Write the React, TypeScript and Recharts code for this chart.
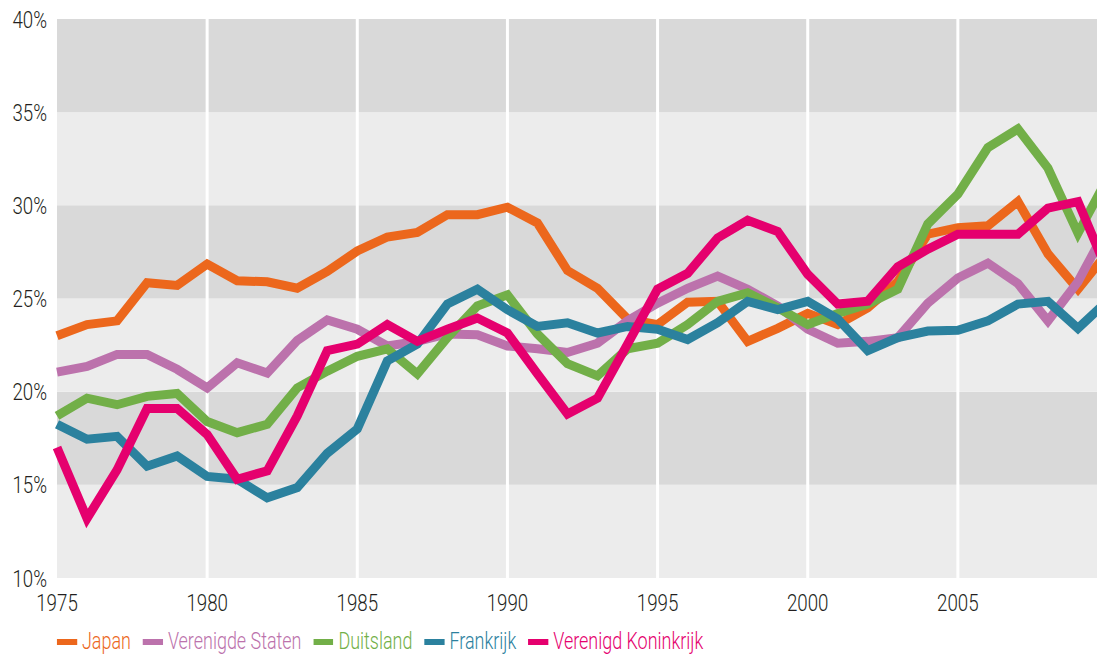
import { LineChart, Line, XAxis, YAxis, ReferenceArea, ReferenceLine, Legend } from "recharts";

// Share of GDP, per year (1975–2010); the 2010 point sits just past the visible edge
const YEARS = [
  1975, 1976, 1977, 1978, 1979, 1980, 1981, 1982, 1983, 1984, 1985, 1986,
  1987, 1988, 1989, 1990, 1991, 1992, 1993, 1994, 1995, 1996, 1997, 1998,
  1999, 2000, 2001, 2002, 2003, 2004, 2005, 2006, 2007, 2008, 2009, 2010,
];

const JAPAN = [
  23.0, 23.6, 23.8, 25.85, 25.7, 26.85, 25.95, 25.9, 25.55, 26.45, 27.55, 28.3,
  28.55, 29.5, 29.5, 29.9, 29.05, 26.5, 25.55, 23.9, 23.6, 24.8, 24.85, 22.7,
  23.4, 24.2, 23.6, 24.5, 25.9, 28.45, 28.8, 28.9, 30.2, 27.4, 25.5, 27.5,
];
const VERENIGDE_STATEN = [
  21.05, 21.35, 22.0, 22.0, 21.2, 20.2, 21.55, 21.0, 22.75, 23.85, 23.35, 22.45,
  22.7, 23.1, 23.05, 22.45, 22.3, 22.1, 22.6, 23.8, 24.75, 25.55, 26.2, 25.5,
  24.6, 23.35, 22.6, 22.7, 22.9, 24.75, 26.1, 26.9, 25.8, 23.8, 25.9, 28.9,
];
const DUITSLAND = [
  18.7, 19.65, 19.3, 19.75, 19.9, 18.4, 17.8, 18.25, 20.2, 21.1, 21.9, 22.3,
  20.95, 22.9, 24.6, 25.2, 23.1, 21.5, 20.85, 22.3, 22.6, 23.6, 24.85, 25.3,
  24.5, 23.6, 24.2, 24.7, 25.5, 29.0, 30.6, 33.1, 34.1, 32.0, 28.5, 31.5,
];
const FRANKRIJK = [
  18.25, 17.45, 17.6, 16.0, 16.55, 15.45, 15.3, 14.3, 14.85, 16.7, 18.0, 21.65,
  22.55, 24.7, 25.5, 24.4, 23.5, 23.7, 23.15, 23.5, 23.35, 22.8, 23.7, 24.85,
  24.4, 24.85, 23.9, 22.2, 22.9, 23.25, 23.3, 23.8, 24.7, 24.85, 23.4, 24.9,
];
const VERENIGD_KONINKRIJK = [
  17.0, 13.2, 15.8, 19.1, 19.1, 17.7, 15.3, 15.75, 18.7, 22.2, 22.55, 23.6,
  22.7, 23.35, 23.95, 23.15, 20.95, 18.8, 19.65, 22.55, 25.5, 26.35, 28.25, 29.2,
  28.6, 26.3, 24.7, 24.85, 26.7, 27.65, 28.45, 28.45, 28.45, 29.85, 30.2, 26.4,
];

const X_TICKS = [1975, 1980, 1985, 1990, 1995, 2000, 2005];
const GRID_YEARS = [1980, 1985, 1990, 1995, 2000, 2005];
const Y_TICKS = [10, 15, 20, 25, 30, 35, 40];
const BANDS = [
  [10, 15],
  [15, 20],
  [20, 25],
  [25, 30],
  [30, 35],
  [35, 40],
];

const SERIES = [
  { key: "jp", name: "Japan", values: JAPAN, color: "#EC671C" },
  { key: "us", name: "Verenigde Staten", values: VERENIGDE_STATEN, color: "#BC72AC" },
  { key: "de", name: "Duitsland", values: DUITSLAND, color: "#72AF48" },
  { key: "fr", name: "Frankrijk", values: FRANKRIJK, color: "#2B819E" },
  { key: "uk", name: "Verenigd Koninkrijk", values: VERENIGD_KONINKRIJK, color: "#E5006E" },
];

const FONT = "Roboto, 'Liberation Sans', sans-serif";
const SQUEEZE = 0.78; // fake a condensed face
const BAND_FILLS = ["#ECECEC", "#D9D9D9"];

const data = YEARS.map((year, i) => {
  const row: Record<string, number> = { year };
  for (const s of SERIES) row[s.key] = s.values[i];
  return row;
});

function CondensedTick(props: any) {
  const { x, y, payload, textAnchor, dy, suffix } = props;
  return (
    <text
      transform={`translate(${x},${y}) scale(${SQUEEZE},1)`}
      textAnchor={textAnchor}
      dy={dy}
      fill="#231F20"
      fontSize={24}
      fontWeight={300}
      fontFamily={FONT}
    >
      {`${payload.value}${suffix ?? ""}`}
    </text>
  );
}

function LegendRow() {
  const k = 1 / SQUEEZE;
  return (
    <div
      style={{
        display: "flex",
        alignItems: "center",
        height: 22,
        paddingTop: 11,
        paddingLeft: 57 * k,
        transform: `scaleX(${SQUEEZE})`,
        transformOrigin: "0 0",
        whiteSpace: "nowrap",
        fontFamily: FONT,
        fontWeight: 300,
      }}
    >
      {SERIES.map((s) => (
        <div key={s.key} style={{ display: "flex", alignItems: "center", marginRight: 12 * k }}>
          <span style={{ display: "inline-block", width: 20 * k, height: 6, background: s.color, marginRight: 5 * k }} />
          <span style={{ color: s.color, fontSize: 23, lineHeight: "22px" }}>{s.name}</span>
        </div>
      ))}
    </div>
  );
}

export default function App() {
  return (
    <div
      style={{
        position: "absolute",
        left: 0,
        top: 0,
        width: 1097,
        height: 655,
        overflow: "hidden",
        background: "#fff",
        fontFamily: FONT,
      }}
    >
      <LineChart width={1110} height={655} data={data} margin={{ top: 19, right: 2, left: 0, bottom: 0 }}>
        {BANDS.map(([lo, hi], i) => (
          <ReferenceArea
            key={lo}
            y1={lo}
            y2={hi}
            fill={BAND_FILLS[i % 2]}
            fillOpacity={1}
            stroke="none"
          />
        ))}
        {GRID_YEARS.map((yr) => (
          <ReferenceLine key={yr} x={yr} stroke="#fff" strokeWidth={3} />
        ))}
        <XAxis
          dataKey="year"
          type="number"
          domain={[1975, 2010]}
          ticks={X_TICKS}
          interval={0}
          axisLine={false}
          tickLine={false}
          tickMargin={10}
          height={42}
          tick={<CondensedTick dy="0.71em" />}
        />
        <YAxis
          type="number"
          domain={[10, 40]}
          ticks={Y_TICKS}
          interval={0}
          width={57}
          axisLine={false}
          tickLine={false}
          tickMargin={4}
          tick={<CondensedTick dy="0.36em" suffix="%" />}
        />
        {SERIES.map((s) => (
          <Line
            key={s.key}
            type="linear"
            dataKey={s.key}
            name={s.name}
            stroke={s.color}
            strokeWidth={9}
            strokeLinejoin="miter"
            dot={false}
            activeDot={false}
            isAnimationActive={false}
          />
        ))}
        <Legend verticalAlign="bottom" height={35} content={() => <LegendRow />} />
      </LineChart>
    </div>
  );
}
